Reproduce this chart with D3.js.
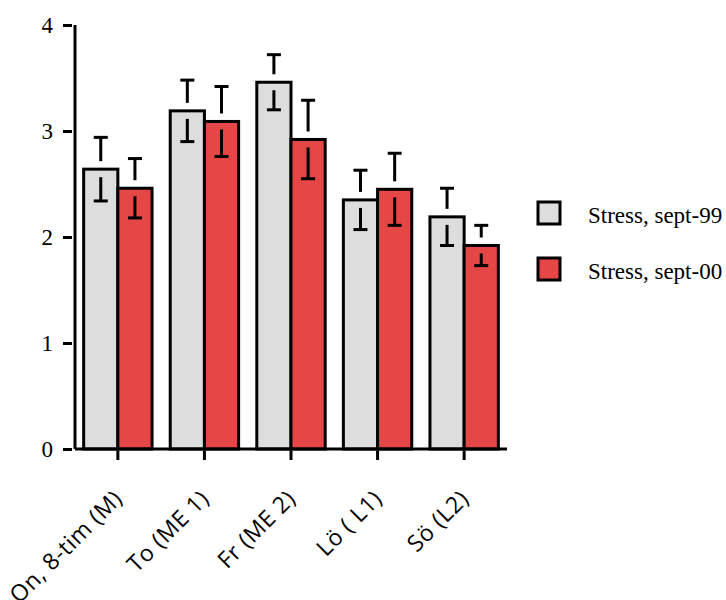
<!DOCTYPE html>
<html>
<head>
<meta charset="utf-8">
<script src="https://cdn.jsdelivr.net/npm/d3@7"></script>
<style>
  body { margin: 0; background: #fff; }
  .serif { font-family: 'Liberation Serif', Tinos, serif; }
  .sans { font-family: 'Open Sans', 'Noto Sans', sans-serif; letter-spacing: 0.6px; }
</style>
</head>
<body>
<svg id="chart" width="726" height="600"></svg>
<script>
const categories = ['On, 8-tim (M)', 'To (ME 1)', 'Fr (ME 2)', 'Lö ( L1)', 'Sö (L2)']
const seriesNames = ['Stress, sept-99', 'Stress, sept-00']
const means99 = [2.64, 3.19, 3.46, 2.35, 2.19]
const sd99 = [0.30, 0.29, 0.26, 0.28, 0.27]
const means00 = [2.46, 3.09, 2.92, 2.45, 1.92]
const sd00 = [0.28, 0.33, 0.37, 0.34, 0.19]
const yTicks = [0, 1, 2, 3, 4]

const colors = ['#dddddd', '#e54646']

const svg = d3.select('#chart')

const mLeft = 75
const mRight = 507
const mTop = 25
const mBottom = 449

const x = d3.scaleBand()
  .domain(categories)
  .range([mLeft, mRight])
  .paddingInner(0.21)
  .paddingOuter(0.1)

const sub = d3.scaleBand()
  .domain([0, 1])
  .range([0, x.bandwidth()])

const y = d3.scaleLinear()
  .domain([0, 4])
  .range([mBottom, mTop])

const data = []
categories.forEach((c, i) => {
  data.push({ cat: c, s: 0, mean: means99[i], sd: sd99[i] })
  data.push({ cat: c, s: 1, mean: means00[i], sd: sd00[i] })
})

// bars
svg.append('g')
  .selectAll('rect')
  .data(data)
  .join('rect')
    .attr('x', d => x(d.cat) + sub(d.s))
    .attr('y', d => y(d.mean))
    .attr('width', sub.bandwidth())
    .attr('height', d => y(0) - y(d.mean))
    .attr('fill', d => colors[d.s])
    .attr('stroke', '#000')
    .attr('stroke-width', 3)

// error bars (stem broken around the bar top)
const gap = 8
const cap = 7
const err = svg.append('g')
  .attr('stroke', '#000')
  .attr('stroke-width', 3)
err.selectAll('g')
  .data(data)
  .join('g')
  .each(function (d) {
    const g = d3.select(this)
    const cx = x(d.cat) + sub(d.s) + sub.bandwidth() / 2
    const ym = y(d.mean)
    const yu = y(d.mean + d.sd)
    const yl = y(d.mean - d.sd)
    g.append('line').attr('x1', cx).attr('x2', cx).attr('y1', yu).attr('y2', ym - gap)
    g.append('line').attr('x1', cx - cap).attr('x2', cx + cap).attr('y1', yu).attr('y2', yu)
    g.append('line').attr('x1', cx).attr('x2', cx).attr('y1', ym + gap).attr('y2', yl)
    g.append('line').attr('x1', cx - cap).attr('x2', cx + cap).attr('y1', yl).attr('y2', yl)
  })

// y axis
const yAxis = svg.append('g')
  .attr('transform', `translate(${mLeft},0)`)
  .call(d3.axisLeft(y).tickValues(yTicks).tickFormat(d3.format('d')).tickSize(12).tickPadding(10))
yAxis.attr('font-family', null).attr('font-size', null)
yAxis.select('.domain').attr('stroke-width', 3).attr('d', `M0,${mTop}V${mBottom}`)
yAxis.selectAll('.tick line').attr('stroke-width', 3).attr('x2', -12).attr('x1', -3)
yAxis.selectAll('.tick text')
  .attr('class', 'serif')
  .attr('x', -22)
  .style('font-size', '23px')
  .attr('fill', '#000')

// x axis
const xAxis = svg.append('g')
  .attr('transform', `translate(0,${mBottom})`)
  .call(d3.axisBottom(x).tickSize(11).tickFormat(''))
xAxis.select('.domain').attr('stroke-width', 3).attr('d', `M${mLeft},0H${mRight}`)
xAxis.selectAll('.tick line').attr('stroke-width', 3).attr('y1', 2)

svg.append('g')
  .selectAll('text')
  .data(categories)
  .join('text')
    .attr('class', 'sans')
    .attr('transform', d => `translate(${x(d) + x.bandwidth() / 2 + 6},${mBottom + 51}) rotate(-45)`)
    .attr('text-anchor', 'end')
    .style('font-size', '23px')
    .attr('fill', '#000')
    .text(d => d)

// legend
const legend = svg.append('g')
  .attr('transform', 'translate(538,202)')
const item = legend.selectAll('g')
  .data(seriesNames)
  .join('g')
    .attr('transform', (d, i) => `translate(0,${i * 56})`)
item.append('rect')
  .attr('width', 22)
  .attr('height', 22)
  .attr('fill', (d, i) => colors[i])
  .attr('stroke', '#000')
  .attr('stroke-width', 3)
item.append('text')
  .attr('class', 'serif')
  .attr('x', 50)
  .attr('y', 21)
  .style('font-size', '23px')
  .attr('fill', '#000')
  .text(d => d)
</script>
</body>
</html>
